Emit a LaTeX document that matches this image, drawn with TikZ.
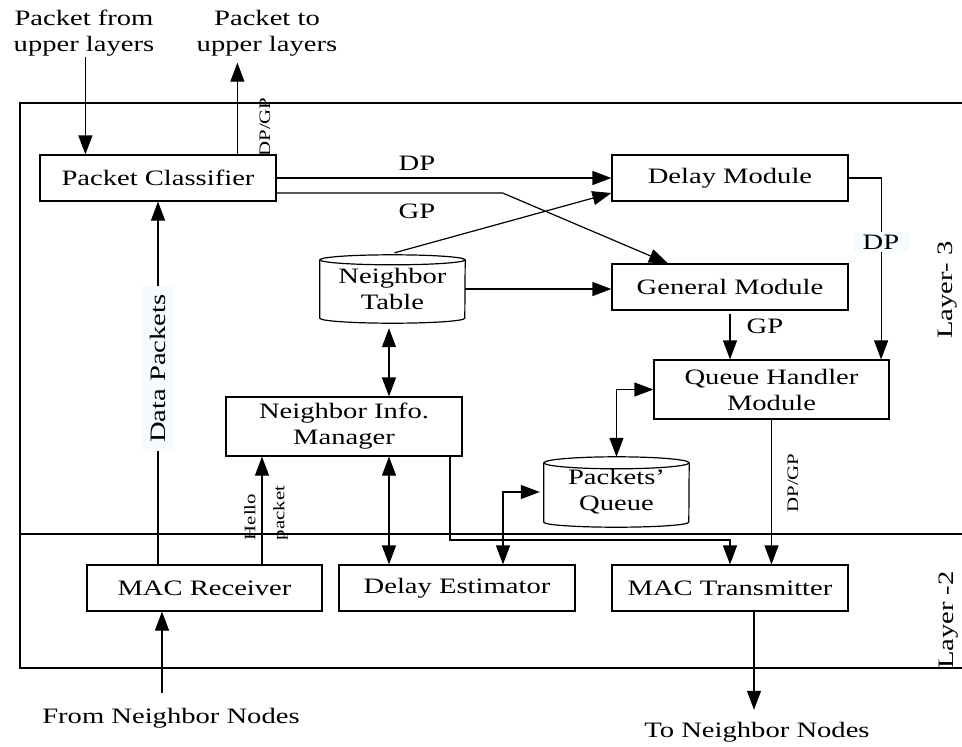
\documentclass[tikz,border=0pt]{standalone}
\usepackage{fontspec}
\setmainfont[FakeStretch=1.3]{Liberation Serif}
\usetikzlibrary{arrows.meta}
\definecolor{lbg}{RGB}{246,251,253}
\begin{document}
\begin{tikzpicture}[x=1pt,y=1pt,
  txt/.style={font=\fontsize{22}{26}\selectfont, inner sep=0pt, align=center},
  small/.style={font=\fontsize{16}{17}\selectfont, inner sep=0pt, align=left},
  box/.style={draw, line width=1.2pt, minimum width=236pt, minimum height=46pt, inner sep=0pt,
              font=\fontsize{22}{26}\selectfont, align=center},
  cylnode/.style={minimum width=145pt, inner sep=0pt, font=\fontsize{22}{26}\selectfont, align=center},
  conn/.style={line width=1.2pt},
  arr/.style={conn, -{Triangle[length=19pt,width=14pt]}},
  arrtwo/.style={conn, {Triangle[length=19pt,width=14pt]}-{Triangle[length=19pt,width=14pt]}},
  frame/.style={line width=1.6pt},
]
\useasboundingbox (0,0) rectangle (962,-747);

% frame
\draw[frame] (962,-103) -- (20,-103) -- (20,-668) -- (962,-668);
\draw[frame] (20,-534) -- (962,-534);
\node[txt, rotate=90] (l3) at (948,-290) {Layer- 3};
\node[txt, rotate=90] (l2) at (949,-620) {Layer -2};

% outer texts
\node[txt] (pfromt) at (84,-33.5) {Packet from\\upper layers};
\node[txt] (ptot) at (267,-33.5) {Packet to\\upper layers};
\node[txt] (fromn) at (171,-718) {From Neighbor Nodes};
\node[txt] (ton) at (757,-732) {To Neighbor Nodes};

% boxes
\node[box] (pc) at (158,-178) {Packet Classifier};
\node[box] (dm) at (730,-178) {Delay Module};
\node[box] (gm) at (730,-287) {General Module};
\node[box, minimum width=235pt, minimum height=59pt] (qh) at (771.5,-389.5) {Queue Handler\\Module};
\node[box, minimum height=59pt] (nim) at (344,-426.5) {Neighbor Info.\\Manager};
\node[box, minimum width=235pt] (mrx) at (204.5,-588) {MAC Receiver};
\node[box] (de) at (457,-588) {Delay Estimator};
\node[box] (mtx) at (730,-588) {MAC Transmitter};

% cylinders
\node[cylnode, minimum height=68pt] (nt) at (392.5,-289) {Neighbor\\Table};
\draw[line width=1.2pt] ([yshift=-5pt]nt.north west) -- ([yshift=5pt]nt.south west)
   arc[start angle=180, end angle=360, x radius=72.5pt, y radius=5pt] -- ([yshift=-5pt]nt.north east);
\draw[line width=1.2pt] ([yshift=-5pt]nt.north) ellipse [x radius=72.5pt, y radius=5pt];

\node[cylnode, minimum height=70pt] (pq) at (616.5,-492) {Packets'\\Queue};
\draw[line width=1.2pt] ([yshift=-6pt]pq.north west) -- ([yshift=5pt]pq.south west)
   arc[start angle=180, end angle=360, x radius=72.5pt, y radius=5pt] -- ([yshift=-6pt]pq.north east);
\draw[line width=1.2pt] ([yshift=-6pt]pq.north) ellipse [x radius=72.5pt, y radius=6pt];

\coordinate (l540) at (0,-540);

% connectors
\draw[arr] ([xshift=46pt]pc.north west |- pfromt.south) -- ([xshift=46pt]pc.north west);
\draw[arr, shorten >=6pt] ([xshift=198pt]pc.north west) -- ([xshift=198pt]pc.north west |- ptot.south);
\node[small, rotate=90] (dpgp1) at (265,-127) {DP/GP};

\draw[arr] (pc.east) -- (dm.west);
\node[txt] (dplab) at (417,-163) {DP};
\draw[arr] ([yshift=-15pt]pc.east) -- ++(226,0) -- ([xshift=-62pt]gm.north);
\node[txt] (gplab) at (417,-211) {GP};

\draw[arr] ([xshift=2pt,yshift=2pt]nt.north) -- ([yshift=-15pt]dm.west);
\draw[arr] (nt.east) -- (nt.east -| gm.west);

\draw[arr] (dm.east) -| ([xshift=-8.5pt]qh.north east);
\node[txt, fill=lbg, inner xsep=10pt, inner ysep=3pt] (dp2) at (881,-242) {DP};

\draw[arr, shorten <=3pt] (gm.south) -- (gm.south |- qh.north);
\node[txt] (gp2) at (765,-326) {GP};

\draw[arrtwo] (qh.west) -| (pq.north);

\draw[arrtwo, shorten <=5pt] ([xshift=-3.5pt]nt.south) -- ([xshift=-3.5pt]nt.south |- nim.north);
\draw[arrtwo] ([xshift=45pt]nim.south) -- ([xshift=45pt]nim.south |- de.north);

\draw[arr] ([xshift=57.5pt]mrx.north) -- ([xshift=57.5pt]mrx.north |- nim.south);
\node[small, rotate=90, font=\fontsize{16}{29}\selectfont] (hello) at (266,-513) {Hello\\packet};

\draw[arr] ([xshift=-46.5pt]mrx.north) -- node[txt, rotate=90, fill=lbg, inner xsep=8pt, inner ysep=8pt, pos=0.54] (dplabel) {Data Packets} (pc.south);

\draw[arr] ([xshift=106pt]nim.south) -- ([xshift=106pt]nim.south |- l540) -| (mtx.north);

\draw[arr] (qh.south) -- (qh.south |- mtx.north);
\node[small, rotate=90] (dpgp2) at (793,-483) {DP/GP};

\draw[arrtwo, shorten >=4pt] ([xshift=46pt]de.north) |- (pq.west);

\coordinate (fromtop) at ([xshift=-42.5pt,yshift=15pt]mrx.south |- fromn.north);
\draw[arr] (fromtop) -- ([xshift=-42.5pt]mrx.south);
\coordinate (totip) at ([xshift=24pt,yshift=12pt]mtx.south |- ton.north);
\draw[arr] ([xshift=24pt]mtx.south) -- (totip);
\end{tikzpicture}
\end{document}
